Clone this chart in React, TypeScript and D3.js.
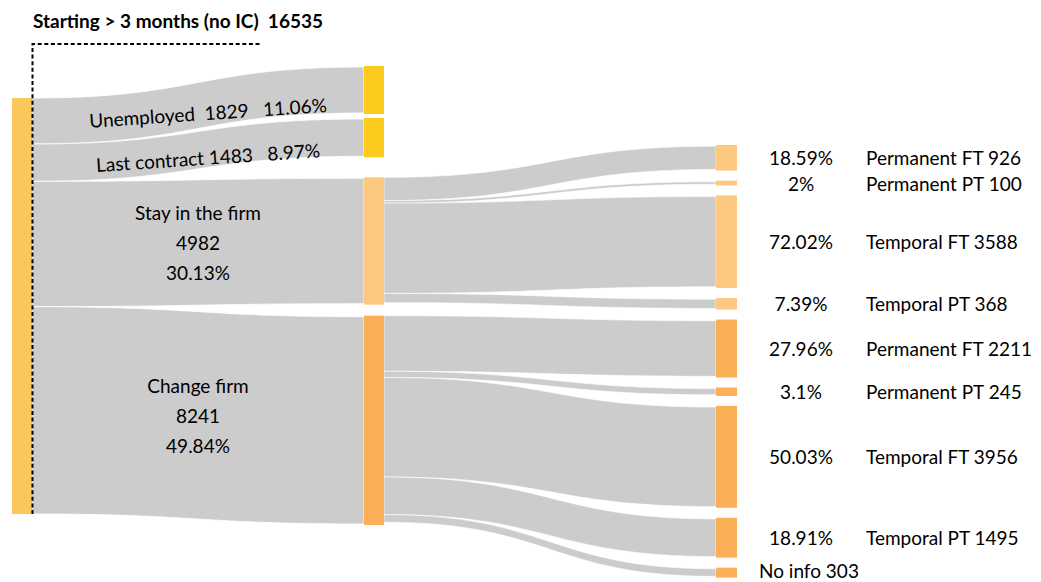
import React from "react";
import * as d3 from "d3";

// ---- data ----
const startLabel = "Starting > 3 months (no IC)";
const startTotal = 16535;

const midNames = ["Unemployed", "Last contract", "Stay in the firm", "Change firm"];
const midValues = [1829, 1483, 4982, 8241];
const midPercents = ["11.06%", "8.97%", "30.13%", "49.84%"];

const endNames = [
  "Permanent FT", "Permanent PT", "Temporal FT", "Temporal PT",
  "Permanent FT", "Permanent PT", "Temporal FT", "Temporal PT", "No info",
];
const endSources = [2, 2, 2, 2, 3, 3, 3, 3, 3];
const endValues = [926, 100, 3588, 368, 2211, 245, 3956, 1495, 303];
const endPercents = ["18.59%", "2%", "72.02%", "7.39%", "27.96%", "3.1%", "50.03%", "18.91%", ""];

// ---- layout / style ----
const W = 1041;
const H = 582;
const NODE_W = 20;
const COL_X = [12, 364, 716];
const LEFT_TOP = 98;
const MID_TOP = 66;
const MID_GAPS = [4, 20, 11];
const MID_PAD = 2;
const RIGHT_TOP = 145;
const RIGHT_GAP = 10;
const RIGHT_PAD = 2.3;
const FONT = "Lato, 'Open Sans', sans-serif";
const LINK_COLOR = "#CCCCCC";
const LEFT_COLOR = "#F9C75B";
const MID_COLORS = ["#FDCA1E", "#FDCA1E", "#FDC980", "#FBB057"];

const size = d3.scaleLinear().domain([0, startTotal]).range([0, 416]);

function bandPath(x0: number, s0: number, s1: number, x1: number, t0: number, t1: number) {
  const xm = (x0 + x1) / 2;
  const p = d3.path();
  p.moveTo(x0, s0);
  p.bezierCurveTo(xm, s0, xm, t0, x1, t0);
  p.lineTo(x1, t1);
  p.bezierCurveTo(xm, t1, xm, s1, x0, s1);
  p.closePath();
  return p.toString();
}

export default function App() {
  // left node
  const leftY0 = LEFT_TOP;
  const leftY1 = LEFT_TOP + size(startTotal);

  // mid nodes
  const mid: { y0: number; y1: number }[] = [];
  let y = MID_TOP;
  midValues.forEach((v, i) => {
    if (i > 0) y += MID_GAPS[i - 1];
    const h = size(v) + MID_PAD;
    mid.push({ y0: y, y1: y + h });
    y += h;
  });

  // right nodes
  const right: { y0: number; y1: number }[] = [];
  y = RIGHT_TOP;
  endValues.forEach((v, i) => {
    if (i > 0) y += RIGHT_GAP;
    const h = size(v) + RIGHT_PAD;
    right.push({ y0: y, y1: y + h });
    y += h;
  });

  // links left -> mid
  const links1: { d: string; s0: number; s1: number; t0: number; t1: number }[] = [];
  let sy = leftY0;
  midValues.forEach((v, i) => {
    const w = size(v);
    const c = (mid[i].y0 + mid[i].y1) / 2;
    const s0 = sy, s1 = sy + w, t0 = c - w / 2, t1 = c + w / 2;
    links1.push({ d: bandPath(COL_X[0] + NODE_W, s0, s1, COL_X[1], t0, t1), s0, s1, t0, t1 });
    sy += w;
  });

  // links mid -> right
  const offsets = mid.map((m) => m.y0);
  const links2 = endValues.map((v, i) => {
    const src = endSources[i];
    const w = size(v);
    const s0 = offsets[src];
    offsets[src] += w;
    const c = (right[i].y0 + right[i].y1) / 2;
    return bandPath(COL_X[1] + NODE_W, s0, s0 + w, COL_X[2], c - w / 2, c + w / 2);
  });

  const labelX = (COL_X[0] + NODE_W + COL_X[1]) / 2;

  return (
    <svg width={W} height={H} style={{ position: "absolute", left: 0, top: 0, display: "block" }}
      fontFamily={FONT}>
      <rect width={W} height={H} fill="#fff" />
      {/* links */}
      {links1.map((l, i) => (
        <path key={"l1" + i} d={l.d} fill={LINK_COLOR} stroke="#fff" strokeWidth={0.8} />
      ))}
      {links2.map((d, i) => (
        <path key={"l2" + i} d={d} fill={LINK_COLOR} stroke="#fff" strokeWidth={0.6} />
      ))}
      {/* nodes */}
      <rect x={COL_X[0]} y={leftY0} width={NODE_W} height={leftY1 - leftY0} fill={LEFT_COLOR} />
      {mid.map((m, i) => (
        <rect key={"m" + i} x={COL_X[1]} y={m.y0} width={NODE_W} height={m.y1 - m.y0} fill={MID_COLORS[i]} />
      ))}
      {right.map((r, i) => (
        <rect key={"r" + i} x={COL_X[2]} y={r.y0} width={NODE_W + 1} height={r.y1 - r.y0}
          fill={MID_COLORS[endSources[i]]} />
      ))}
      {/* dashed bracket */}
      <path d={`M${COL_X[0] + NODE_W + 0.5},${leftY1} V44 H260`} fill="none" stroke="#000"
        strokeWidth={2} strokeDasharray="4,2.6" />
      {/* title */}
      <text x={33} y={28} fontSize={19} fontWeight="bold" fill="#000" style={{ whiteSpace: "pre" }}>
        {`${startLabel}  ${startTotal}`}
      </text>
      {/* mid labels */}
      {links1.map((l, i) => {
        const cy = ((l.s0 + l.s1) / 2 + (l.t0 + l.t1) / 2) / 2;
        if (i < 2) {
          const sep = i === 0 ? "  " : " ";
          const cx = labelX + 10;
          const yy = cy + 7;
          return (
            <text key={"ml" + i} x={cx} y={yy} fontSize={19} textAnchor="middle" dominantBaseline="central"
              transform={`rotate(-3.8 ${cx} ${yy})`} style={{ whiteSpace: "pre" }} fill="#000">
              {`${midNames[i]}${sep}${midValues[i]}   ${midPercents[i]}`}
            </text>
          );
        }
        return (
          <g key={"ml" + i}>
            {[midNames[i], String(midValues[i]), midPercents[i]].map((t, j) => (
              <text key={j} x={labelX} y={cy + (j - 1) * 30} fontSize={19} textAnchor="middle"
                dominantBaseline="central" fill="#000">{t}</text>
            ))}
          </g>
        );
      })}
      {/* right labels */}
      {right.map((r, i) => {
        const cy = (r.y0 + r.y1) / 2;
        if (!endPercents[i]) {
          return (
            <text key={"rl" + i} x={759} y={cy - 2} fontSize={19} dominantBaseline="central" fill="#000">
              {`${endNames[i]} ${endValues[i]}`}
            </text>
          );
        }
        return (
          <g key={"rl" + i}>
            <text x={801} y={cy} fontSize={19} textAnchor="middle" dominantBaseline="central" fill="#000">
              {endPercents[i]}
            </text>
            <text x={866} y={cy} fontSize={19} dominantBaseline="central" fill="#000">
              {`${endNames[i]} ${endValues[i]}`}
            </text>
          </g>
        );
      })}
    </svg>
  );
}
